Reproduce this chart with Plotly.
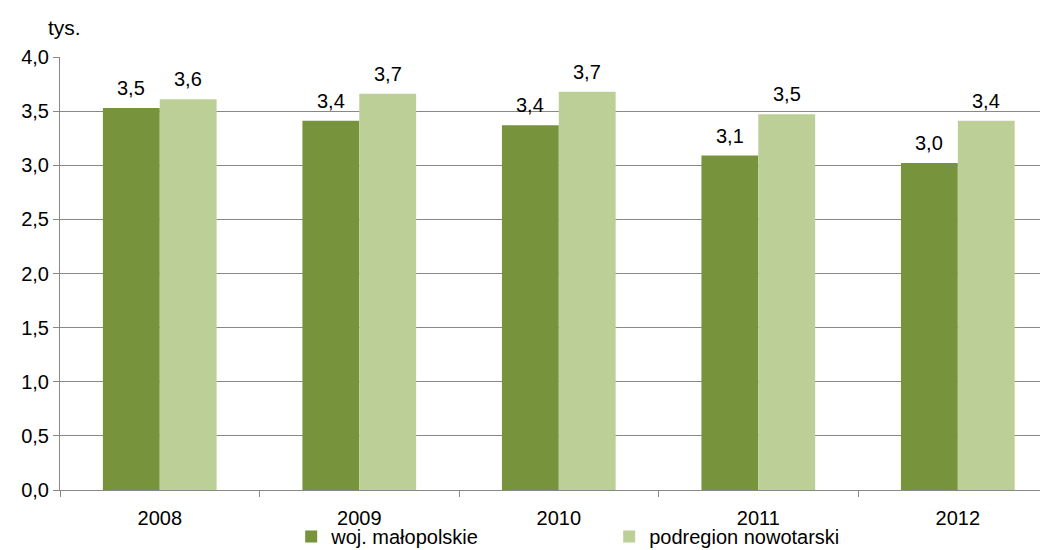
import plotly.graph_objects as go

years = ["2008", "2009", "2010", "2011", "2012"]
malopolskie = [3.53, 3.41, 3.37, 3.09, 3.02]
nowotarski = [3.61, 3.66, 3.68, 3.47, 3.41]


def fmt(vals):
    return [f"{v:.1f}".replace(".", ",") for v in vals]


fig = go.Figure()
fig.add_trace(go.Bar(
    x=years, y=malopolskie, name="woj. małopolskie",
    marker=dict(color="#77933C", line=dict(width=0)),
))
fig.add_trace(go.Bar(
    x=years, y=nowotarski, name="podregion nowotarski",
    marker=dict(color="#BBCF97", line=dict(width=0)),
))

# value labels above the bars (category index, shifted half a bar width)
labels = []
for vals, shift in [(malopolskie, -28.5), (nowotarski, 28.5)]:
    for i, (v, t) in enumerate(zip(vals, fmt(vals))):
        labels.append(dict(
            x=i, y=v, text=t, xref="x", yref="y", showarrow=False,
            xshift=shift, yshift=7, yanchor="bottom",
            font=dict(size=20),
        ))

labels.append(dict(
    text="tys.", xref="paper", yref="paper", x=-0.0138, y=1.067,
    xanchor="left", yanchor="middle", showarrow=False,
    font=dict(size=21),
))

fig.update_layout(
    width=1040, height=542,
    barmode="group", bargap=0.43, bargroupgap=0,
    separators=", ",
    plot_bgcolor="white", paper_bgcolor="white",
    font=dict(family="Liberation Sans, Arial", size=20, color="#000000"),
    margin=dict(l=52, r=0, t=49, b=60, autoexpand=False),
    showlegend=True,
    legend=dict(
        orientation="h", x=0.234, xanchor="left", y=-0.0624, yanchor="top",
        entrywidth=273, font=dict(size=20), bgcolor="rgba(0,0,0,0)",
        itemwidth=30, tracegroupgap=0,
    ),
    xaxis=dict(
        type="category", range=[-0.5, 4.452],
        showline=True, linecolor="#888888", linewidth=1,
        ticks="outside", tickson="boundaries", ticklen=6, tickcolor="#888888",
        ticklabelstandoff=10, tickfont=dict(size=20),
    ),
    yaxis=dict(
        range=[0, 4.0], dtick=0.5, tickformat=".1f",
        showgrid=True, gridcolor="#888888", gridwidth=1,
        showline=True, linecolor="#888888", linewidth=1,
        ticks="outside", ticklen=6, tickcolor="#888888",
        zeroline=False, tickfont=dict(size=20),
    ),
    annotations=labels,
)

fig.write_html("out.html")
